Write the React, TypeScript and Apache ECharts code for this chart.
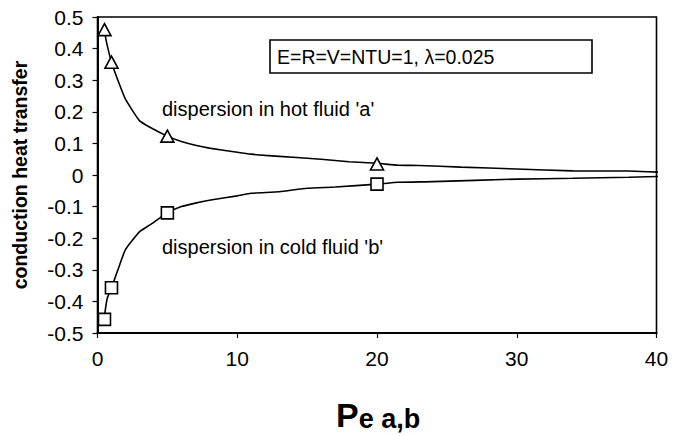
import React, { useEffect, useRef } from "react";
import * as echarts from "echarts";

// Péclet number samples along each curve
const hotPe = [0.5, 0.6, 0.75, 1, 1.5, 2, 3, 3.75, 5, 6, 7, 8, 10, 11, 12, 14, 16, 18, 20, 21.5, 23, 26, 30, 34, 38, 40.8];
const hotVal = [0.46, 0.43, 0.4, 0.357, 0.295, 0.24, 0.172, 0.151, 0.123, 0.106, 0.094, 0.085, 0.072, 0.066, 0.062, 0.056, 0.05, 0.042, 0.037, 0.031, 0.03, 0.025, 0.019, 0.013, 0.0125, 0.008];

const coldPe = [0.5, 0.55, 0.7, 1, 1.5, 2, 3, 3.75, 5, 6, 7, 8, 10, 11, 13, 15, 17, 20, 21.5, 24, 30, 34, 38, 40.8];
const coldVal = [-0.457, -0.43, -0.39, -0.357, -0.295, -0.236, -0.18, -0.158, -0.12, -0.1, -0.089, -0.08, -0.066, -0.058, -0.053, -0.042, -0.038, -0.029, -0.023, -0.021, -0.013, -0.0105, -0.007, -0.004];

// computed points shown with markers
const hotMarkPe = [0.5, 1, 5, 20];
const hotMarkVal = [0.46, 0.357, 0.123, 0.035];
const coldMarkPe = [0.5, 1, 5, 20];
const coldMarkVal = [-0.457, -0.357, -0.12, -0.029];

const xTicks = { min: 0, max: 40, step: 10 };
const yTicks = { min: -0.5, max: 0.5, step: 0.1 };

const FONT = "'Liberation Sans', Arial, sans-serif";

const zip = (xs: number[], ys: number[]) => xs.map((x, i) => [x, ys[i]]);

export default function App() {
  const ref = useRef<HTMLDivElement>(null);

  useEffect(() => {
    if (!ref.current) return;
    const chart = echarts.init(ref.current, undefined, { renderer: "svg" });

    const lineStyle = { color: "#000", width: 1.6 };
    const markerStyle = { color: "#fff", borderColor: "#000", borderWidth: 1.6, opacity: 1 };

    chart.setOption({
      animation: false,
      backgroundColor: "#fff",
      grid: {
        left: 97.5,
        right: 16.5,
        top: 17,
        bottom: 103,
        containLabel: false,
        outerBoundsMode: "none",
        show: true,
        borderColor: "#000",
        borderWidth: 1.6,
        backgroundColor: "transparent",
      },
      xAxis: {
        type: "value",
        min: xTicks.min,
        max: xTicks.max,
        interval: xTicks.step,
        axisLine: { show: true, onZero: false, lineStyle: { color: "#000", width: 2 } },
        axisTick: { show: true, inside: false, length: 5, lineStyle: { color: "#000", width: 1.2 } },
        splitLine: { show: false },
        axisLabel: { color: "#000", fontSize: 21, fontFamily: FONT, margin: 15 },
      },
      yAxis: {
        type: "value",
        min: yTicks.min,
        max: yTicks.max,
        interval: yTicks.step,
        name: "conduction heat transfer",
        nameLocation: "middle",
        nameGap: 68,
        nameTextStyle: { color: "#000", fontSize: 19.5, fontWeight: "bold", fontFamily: FONT },
        axisLine: { show: true, onZero: false, lineStyle: { color: "#000", width: 2 } },
        axisTick: { show: true, inside: false, length: 5, lineStyle: { color: "#000", width: 1.2 } },
        splitLine: { show: false },
        axisLabel: {
          color: "#000",
          fontSize: 21,
          fontFamily: FONT,
          margin: 14,
          formatter: (v: number) => String(Number(v.toFixed(1))),
        },
      },
      series: [
        {
          name: "hot",
          type: "line",
          data: zip(hotPe, hotVal),
          showSymbol: false,
          smooth: 0.15,
          clip: false,
          lineStyle,
          z: 2,
        },
        {
          name: "cold",
          type: "line",
          data: zip(coldPe, coldVal),
          showSymbol: false,
          smooth: 0.15,
          clip: false,
          lineStyle,
          z: 2,
        },
        {
          name: "hot points",
          type: "scatter",
          data: zip(hotMarkPe, hotMarkVal),
          symbol: "triangle",
          symbolSize: [13, 12],
          itemStyle: markerStyle,
          z: 3,
        },
        {
          name: "cold points",
          type: "scatter",
          data: zip(coldMarkPe, coldMarkVal),
          symbol: "rect",
          symbolSize: 12,
          itemStyle: markerStyle,
          z: 3,
        },
      ],
      graphic: [
        {
          type: "rect",
          shape: { x: 270, y: 40, width: 322, height: 33 },
          style: { fill: "#fff", stroke: "#000", lineWidth: 1.6 },
          z: 10,
        },
        {
          type: "text",
          x: 277,
          y: 57,
          style: {
            text: "E=R=V=NTU=1, λ=0.025",
            fill: "#000",
            fontSize: 19.5,
            fontFamily: FONT,
            verticalAlign: "middle",
            align: "left",
          },
          z: 11,
        },
        {
          type: "text",
          x: 162,
          y: 109,
          style: {
            text: "dispersion in hot fluid 'a'",
            fill: "#000",
            fontSize: 20,
            fontFamily: FONT,
            verticalAlign: "middle",
          },
          z: 11,
        },
        {
          type: "text",
          x: 162,
          y: 247,
          style: {
            text: "dispersion in cold fluid 'b'",
            fill: "#000",
            fontSize: 20,
            fontFamily: FONT,
            verticalAlign: "middle",
          },
          z: 11,
        },
        {
          type: "text",
          x: 336,
          y: 432,
          style: {
            text: "{p|P}{s|e a,b}",
            fill: "#000",
            fontFamily: FONT,
            fontWeight: "bold",
            verticalAlign: "bottom",
            rich: {
              p: { fontSize: 34, fontWeight: "bold", fontFamily: FONT, verticalAlign: "bottom", lineHeight: 34 },
              s: { fontSize: 27, fontWeight: "bold", fontFamily: FONT, verticalAlign: "bottom", lineHeight: 29 },
            },
          },
          z: 11,
        },
      ],
    });

    return () => chart.dispose();
  }, []);

  return (
    <div
      ref={ref}
      style={{ position: "fixed", left: 0, top: 0, width: 673, height: 436, background: "#fff" }}
    />
  );
}
